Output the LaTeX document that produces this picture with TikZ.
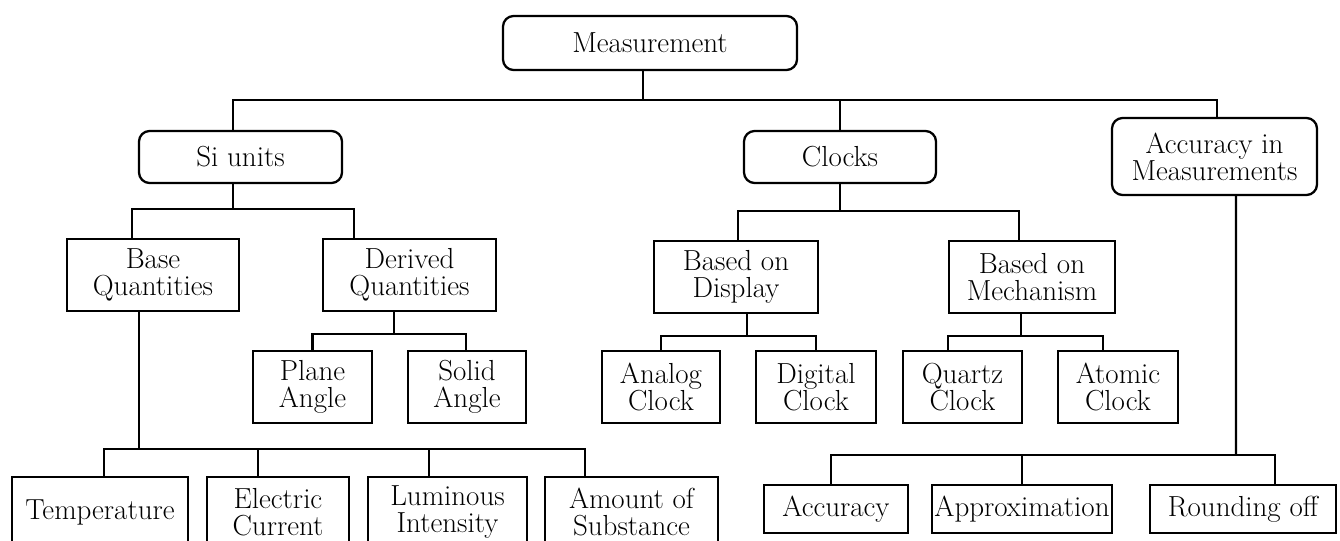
\documentclass[tikz,border=0pt]{standalone}
\usepackage{tikz}
\tikzset{>=latex}
\usetikzlibrary{calc}
\tikzset{
  cbox/.style={draw, align=center, inner sep=1pt, font=\fontsize{16.5}{15.5}\selectfont},
  rbox/.style={cbox, rounded corners=6pt},
  boxsize/.style 2 args={minimum width=#1*0.02cm, minimum height=#2*0.02cm},
}

\begin{document}
\begin{tikzpicture}[x=0.02cm, y=-0.02cm, line width=1.3pt]
  \useasboundingbox (0,0) rectangle (1340,541);
  \clip (0,0) rectangle (1340,541);

  \node[rbox, boxsize={294}{54}] (meas) at (650,43) {Measurement};
  \node[rbox, boxsize={203}{52}] (si) at (240.5,157) {Si units};
  \node[rbox, boxsize={192}{52}] (clocks) at (840,157) {Clocks};
  \node[rbox, boxsize={205}{77}] (acc) at (1214.5,156.5) {Accuracy in\\Measurements};

  \node[cbox, boxsize={172}{72}] (base) at (153,275) {Base\\Quantities};
  \node[cbox, boxsize={173}{72}] (derived) at (409.5,275) {Derived\\Quantities};
  \node[cbox, boxsize={164}{72}] (display) at (736,277) {Based on\\Display};
  \node[cbox, boxsize={166}{72}] (mech) at (1032,277) {Based on\\Mechanism};

  \node[cbox, boxsize={119}{72}] (plane) at (312.5,387) {Plane\\Angle};
  \node[cbox, boxsize={118}{72}] (solid) at (467,387) {Solid\\Angle};
  \node[cbox, boxsize={118}{72}] (analog) at (661,387) {Analog\\Clock};
  \node[cbox, boxsize={120}{72}] (digital) at (816,387) {Digital\\Clock};
  \node[cbox, boxsize={119}{72}] (quartz) at (962.5,387) {Quartz\\Clock};
  \node[cbox, boxsize={120}{72}] (atomic) at (1118,387) {Atomic\\Clock};

  \node[cbox, boxsize={176}{70}] (temp) at (100,512) {Temperature};
  \node[cbox, boxsize={142}{70}] (elec) at (278,512) {Electric\\Current};
  \node[cbox, boxsize={159}{70}] (lum) at (447.5,512) {Luminous\\Intensity};
  \node[cbox, boxsize={173}{70}] (amount) at (631.5,512) {Amount of\\Substance};
  \node[cbox, boxsize={144}{48}] (accuracy) at (836,509) {Accuracy};
  \node[cbox, boxsize={180}{48}] (approx) at (1022,509) {Approximation};
  \node[cbox, boxsize={186}{48}] (round) at (1243,509) {Rounding off};

  \coordinate (b0) at (643,100);
  \coordinate (b1) at (233,209);
  \coordinate (b2) at (840,211);
  \coordinate (b3) at (139,449);
  \coordinate (b4) at (394,334);
  \coordinate (b5) at (747,336);
  \coordinate (b6) at (1021,336);
  \coordinate (b7) at (1236,455);

  \draw ($(meas.south)+(-7,0)$) -- (b0);
  \draw ($(si.north)+(-7.5,0)$) |- (b0) -| ($(acc.north)+(2.5,0)$);
  \draw (clocks.north) -- (clocks.north |- b0);

  \draw ($(si.south)+(-7.5,0)$) -- (b1);
  \draw ($(base.north)+(-21,0)$) |- (b1) -| ($(derived.north)+(-55.5,0)$);
  \draw (clocks.south) -- (b2);
  \draw ($(display.north)+(2,0)$) |- (b2) -| ($(mech.north)+(-13,0)$);

  \draw ($(derived.south)+(-15.5,0)$) -- (b4);
  \draw (plane.north) |- (b4) -| ($(solid.north)+(-1,0)$);
  \draw ($(display.south)+(11,0)$) -- (b5);
  \draw (analog.north) |- (b5) -| (digital.north);
  \draw ($(mech.south)+(-11,0)$) -- (b6);
  \draw ($(quartz.north)+(-14.5,0)$) |- (b6) -| ($(atomic.north)+(-15,0)$);

  \draw ($(base.south)+(-14,0)$) -- (b3);
  \draw ($(temp.north)+(4,0)$) |- (b3) -| ($(amount.north)+(-46.5,0)$);
  \draw ($(elec.north)+(-20,0)$) |- (b3);
  \draw ($(lum.north)+(-18.5,0)$) |- (b3);
  \draw ($(acc.south)+(21.5,0)$) -- (b7);
  \draw ($(accuracy.north)+(-5,0)$) |- (b7) -| ($(round.north)+(32,0)$);
  \draw (approx.north) |- (b7);
\end{tikzpicture}
\end{document}
